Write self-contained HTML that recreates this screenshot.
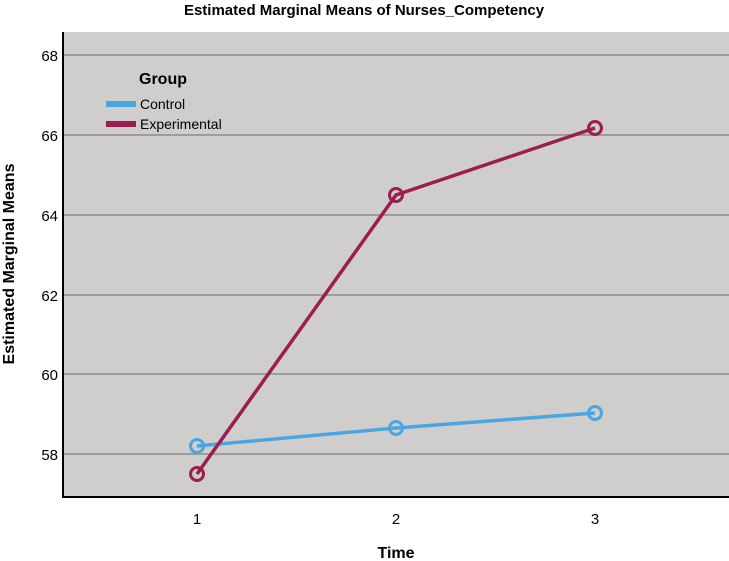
<!DOCTYPE html><html><head><style>body{margin:0;background:#fff}svg{display:block}text{font-family:"Liberation Sans",Arial,sans-serif}</style></head><body>
<svg width="729" height="561" xmlns="http://www.w3.org/2000/svg">
<text x="364" y="15" text-anchor="middle" font-size="15" font-weight="bold">Estimated Marginal Means of Nurses_Competency</text>
<rect x="63" y="32" width="666" height="465" fill="#d0cecd"/>
<g stroke="#9d9d9d" stroke-width="2">
<line x1="63" y1="55" x2="729" y2="55"/><line x1="63" y1="135" x2="729" y2="135"/><line x1="63" y1="215" x2="729" y2="215"/><line x1="63" y1="295" x2="729" y2="295"/><line x1="63" y1="374" x2="729" y2="374"/><line x1="63" y1="454" x2="729" y2="454"/>
</g>
<path d="M63 32V497H729" fill="none" stroke="#000" stroke-width="2"/>
<g font-size="15" text-anchor="end"><text x="58" y="61">68</text><text x="58" y="141">66</text><text x="58" y="221">64</text><text x="58" y="301">62</text><text x="58" y="380">60</text><text x="58" y="460">58</text></g>
<g font-size="15" text-anchor="middle"><text x="197" y="524">1</text><text x="396" y="524">2</text><text x="595" y="524">3</text></g>
<text x="396" y="558" text-anchor="middle" font-size="16" font-weight="bold">Time</text>
<text transform="translate(14,264) rotate(-90)" text-anchor="middle" font-size="16" font-weight="bold">Estimated Marginal Means</text>
<text x="139" y="84" font-size="16" font-weight="bold">Group</text>
<rect x="106" y="101" width="30" height="6" fill="#4aa6e0"/><text x="140" y="109" font-size="14">Control</text>
<rect x="106" y="121" width="30" height="6" fill="#9b1f4e"/><text x="140" y="129" font-size="14">Experimental</text>
<g fill="none" stroke-width="3.5">
<polyline points="197,446 396,428 595,413" stroke="#4aa6e0"/>
<polyline points="197,474 396,195 595,128" stroke="#9b1f4e"/>
</g>
<g fill="none" stroke-width="3">
<circle cx="197" cy="446" r="6.5" stroke="#4aa6e0"/><circle cx="396" cy="428" r="6.5" stroke="#4aa6e0"/><circle cx="595" cy="413" r="6.5" stroke="#4aa6e0"/>
<circle cx="197" cy="474" r="6.5" stroke="#9b1f4e"/><circle cx="396" cy="195" r="6.5" stroke="#9b1f4e"/><circle cx="595" cy="128" r="6.5" stroke="#9b1f4e"/>
</g>
</svg></body></html>
